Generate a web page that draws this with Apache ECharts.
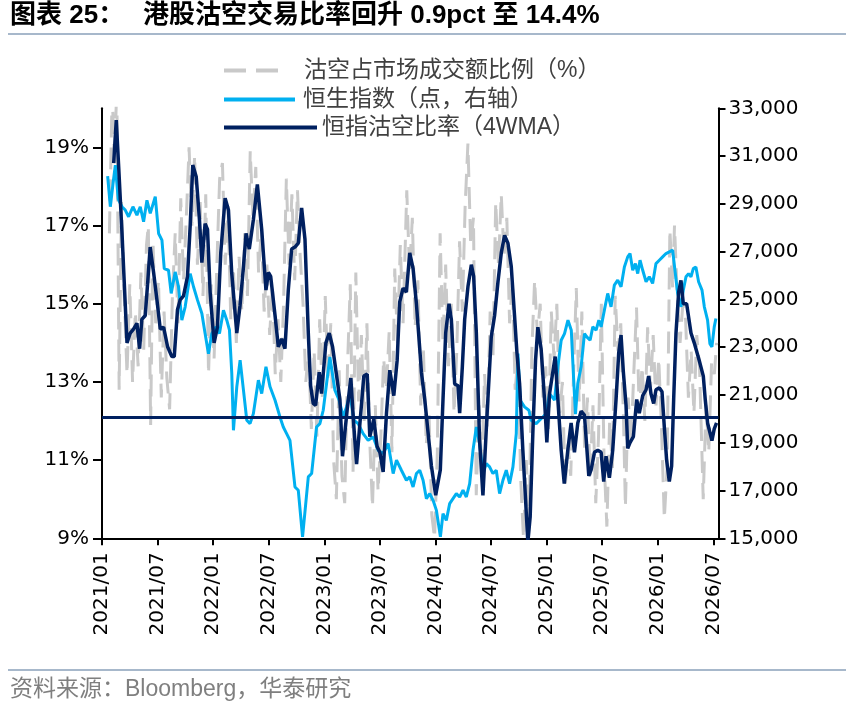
<!DOCTYPE html>
<html>
<head>
<meta charset="utf-8">
<script src="https://cdn.jsdelivr.net/npm/echarts@6/dist/echarts.min.js"></script>
<style>
  html, body { margin: 0; padding: 0; background: #fff; }
  #chart { width: 861px; height: 706px; }
</style>
</head>
<body>
<div id="chart"></div>
<script>
// x = months after 2021/01
var tickMonths = [0, 6, 12, 18, 24, 30, 36, 42, 48, 54, 60, 66];
var tickLabels = ['2021/01', '2021/07', '2022/01', '2022/07', '2023/01', '2023/07',
                  '2024/01', '2024/07', '2025/01', '2025/07', '2026/01', '2026/07'];
var leftTicks = [9, 11, 13, 15, 17, 19];

var seriesNames = ['沽空占市场成交额比例（%）', '恒生指数（点，右轴）', '恒指沽空比率（4WMA）'];
var avgLevel = 12.1;

// 沽空占市场成交额比例 (%)
var shortRatio = [
  [0.8,16.8],[1.1,20.4],[1.35,18.6],[1.6,20.6],[1.85,12.8],[2.1,17.6],[2.4,15.2],[2.7,13.2],[3.0,15.5],[3.3,13.0],
  [3.6,14.8],[3.9,13.4],[4.2,15.8],[4.5,13.8],[4.8,16.5],[5.0,17.0],[5.25,11.9],[5.5,16.6],[5.8,14.5],[6.1,15.6],
  [6.4,12.6],[6.7,14.8],[7.0,13.1],[7.3,12.3],[7.6,15.2],[7.9,16.8],[8.2,14.5],[8.5,17.7],[8.8,15.6],[9.1,17.2],
  [9.4,19.0],[9.7,17.0],[10.0,18.8],[10.3,16.0],[10.6,17.6],[10.9,15.2],[11.2,17.8],[11.5,13.2],[11.8,15.5],[12.1,13.6],
  [12.4,16.0],[12.7,18.2],[13.0,18.6],[13.3,16.0],[13.6,17.5],[13.9,14.6],[14.2,15.8],[14.5,14.0],[14.8,16.2],[15.1,14.8],
  [15.4,16.8],[15.7,15.2],[16.0,18.9],[16.3,17.2],[16.6,18.5],[16.9,15.8],[17.2,16.9],[17.5,14.8],[17.8,16.0],[18.1,14.2],
  [18.4,15.5],[18.7,13.2],[19.0,14.6],[19.3,13.0],[19.6,15.0],[19.9,18.2],[20.2,16.0],[20.5,17.8],[20.8,15.6],[21.1,17.9],
  [21.4,16.2],[21.7,15.0],[22.0,13.0],[22.3,13.8],[22.6,11.8],[22.9,13.8],[23.2,11.6],[23.5,14.6],[23.8,12.5],[24.1,15.2],
  [24.4,13.0],[24.7,14.5],[25.0,11.0],[25.3,10.0],[25.6,13.3],[25.9,10.6],[26.2,9.9],[26.5,13.4],[26.8,15.5],[27.1,10.7],
  [27.4,15.8],[27.7,12.5],[28.0,14.2],[28.3,12.0],[28.6,14.5],[28.9,11.5],[29.2,9.8],[29.5,12.4],[29.8,10.2],[30.1,11.6],
  [30.4,13.6],[30.7,12.8],[31.0,14.3],[31.3,11.2],[31.6,15.9],[31.9,14.0],[32.2,16.5],[32.5,14.5],[32.9,17.9],[33.2,15.8],
  [33.5,17.2],[33.8,14.4],[34.1,15.6],[34.4,12.4],[34.7,13.8],[35.0,11.4],[35.3,12.2],[35.6,9.6],[35.9,9.0],[36.2,11.2],
  [36.5,16.8],[36.8,14.0],[37.1,16.0],[37.4,13.4],[37.7,15.0],[38.0,12.2],[38.3,13.8],[38.6,16.6],[38.9,14.8],[39.2,17.5],
  [39.5,19.1],[39.8,16.5],[40.1,17.2],[40.4,10.1],[40.7,12.4],[41.0,10.8],[41.3,13.2],[41.6,11.8],[41.9,14.8],[42.2,13.6],
  [42.5,17.6],[42.8,16.0],[43.1,17.8],[43.4,16.2],[43.7,17.2],[44.0,14.5],[44.3,15.6],[44.6,12.8],[44.9,13.6],[45.2,10.5],
  [45.5,9.0],[45.8,11.0],[46.1,9.4],[46.4,13.8],[46.7,15.6],[47.0,14.2],[47.3,15.0],[47.6,12.6],[47.9,13.4],[48.2,11.8],
  [48.5,14.8],[48.8,13.6],[49.1,15.0],[49.4,12.2],[49.7,13.0],[50.0,10.3],[50.3,11.4],[50.6,10.6],[50.9,13.2],[51.2,15.4],
  [51.5,12.5],[51.8,14.8],[52.1,11.2],[52.4,12.6],[52.7,10.6],[53.0,12.4],[53.3,9.9],[53.6,11.6],[53.9,15.0],[54.2,11.0],
  [54.5,9.3],[54.8,12.0],[55.1,10.8],[55.4,15.2],[55.7,13.8],[56.0,14.5],[56.3,12.0],[56.5,9.8],[56.8,12.6],[57.1,11.4],
  [57.4,13.2],[57.7,14.9],[58.0,12.2],[58.3,13.4],[58.6,12.0],[58.9,14.4],[59.2,12.8],[59.5,14.2],[59.8,12.4],[60.1,13.6],
  [60.4,11.8],[60.7,9.5],[61.0,10.8],[61.3,16.9],[61.6,15.4],[61.8,17.0],[62.1,15.2],[62.4,14.0],[62.7,15.0],[63.0,14.6],
  [63.3,12.6],[63.6,13.8],[63.9,12.2],[64.2,14.2],[64.5,13.4],[64.9,10.0],[65.2,12.4],[65.5,11.2],[65.8,13.5],[66.1,13.2],
  [66.35,14.0]
];

// 恒生指数 (点)
var hsi = [
  [0.61,30160],[0.9,28880],[1.19,29850],[1.44,30620],[1.75,29200],[2.16,28880],[2.51,28740],[2.87,28460],[3.34,28880],[3.77,28530],
  [4.13,28880],[4.49,28250],[4.85,29150],[5.21,28600],[5.75,29300],[6.11,27760],[6.47,27480],[6.72,26290],[7.18,26220],[7.47,25250],
  [7.9,26150],[8.26,25530],[8.62,24130],[8.98,24690],[9.52,26080],[9.88,25530],[10.31,24970],[10.78,24410],[11.13,23570],[11.49,22730],
  [11.85,23570],[12.32,23850],[12.68,23570],[13.11,24550],[13.47,24130],[13.76,23710],[14.01,21900],[14.19,19520],[14.55,21340],[14.91,22460],
  [15.27,21200],[15.63,19940],[15.98,19800],[16.34,20220],[16.88,21620],[17.24,21060],[17.7,22180],[18.14,21340],[18.68,20780],[19.21,20080],
  [19.57,19660],[19.93,19380],[20.29,19100],[20.83,17150],[21.19,17010],[21.65,15060],[22.27,17570],[22.63,17710],[23.16,19660],[23.52,19800],
  [23.88,20360],[24.6,22590],[25.14,21200],[25.6,20780],[26.04,20080],[26.4,20500],[26.76,21060],[27.19,19940],[27.65,19800],[28.19,19380],
  [28.73,19100],[29.27,19240],[29.81,18690],[30.35,18550],[30.89,18970],[31.43,17710],[31.79,18270],[32.32,17850],[32.86,17430],[33.22,17570],
  [33.58,17150],[33.94,17710],[34.3,17850],[34.66,17430],[35.02,16660],[35.38,16870],[35.74,16590],[36.1,16170],[36.53,15060],[36.81,16030],
  [37.17,15750],[37.53,16450],[37.89,16660],[38.25,16870],[38.61,16730],[38.97,17010],[39.33,16730],[39.69,17290],[40.05,18690],[40.41,19660],
  [40.76,18970],[41.12,17710],[41.48,18130],[41.84,17990],[42.2,17710],[42.56,17850],[42.92,16870],[43.28,17430],[43.64,17850],[44.0,17290],
  [44.36,17990],[44.72,19380],[44.9,22730],[45.15,20780],[45.61,20500],[46.08,20360],[46.33,19940],[46.87,19800],[47.23,19940],[47.59,20080],
  [47.95,20220],[48.31,21060],[48.85,20780],[49.21,22180],[49.57,23290],[49.93,23570],[50.3,24130],[50.66,23710],[50.9,21760],[51.11,20200],
  [51.36,21480],[51.72,22180],[52.08,23570],[52.33,23430],[52.69,23290],[52.98,23850],[53.34,23710],[53.63,24130],[53.88,23850],[54.23,24550],
  [54.59,25250],[54.95,24690],[55.31,25600],[55.67,25810],[56.03,25530],[56.39,26360],[56.75,26780],[57.0,26920],[57.29,26220],[57.58,26500],
  [57.83,26080],[58.08,26640],[58.37,26220],[58.73,25740],[59.08,25950],[59.44,25670],[59.8,26500],[60.16,26640],[60.52,26780],[60.88,26920],
  [61.24,26990],[61.6,27060],[61.89,26080],[62.14,25250],[62.5,24690],[62.75,25390],[63.04,25950],[63.32,26080],[63.58,25950],[63.83,26290],
  [64.11,26360],[64.4,25740],[64.77,25390],[65.02,24690],[65.37,24130],[65.62,23150],[65.84,23010],[66.09,23850],[66.27,24200]
];

// 恒指沽空比率 4WMA (%)
var shortRatio4w = [
  [1.26,18.6],[1.54,19.7],[1.8,18.5],[2.16,16.8],[2.7,14.0],[3.05,14.25],[3.4,14.35],[3.77,14.5],[4.06,13.85],[4.3,14.6],
  [4.67,14.7],[4.92,15.5],[5.2,16.45],[5.57,15.8],[5.93,15.1],[6.29,14.35],[6.65,14.4],[7.08,13.9],[7.54,13.65],[7.8,13.65],
  [8.15,14.85],[8.44,15.1],[8.8,15.2],[9.23,15.7],[9.52,17.0],[9.8,18.55],[10.17,18.25],[10.52,17.15],[10.78,16.05],[11.13,17.05],
  [11.39,16.9],[11.67,15.3],[12.1,14.0],[12.46,14.4],[12.82,16.3],[13.29,17.7],[13.65,17.4],[14.0,15.8],[14.55,14.25],[14.9,14.95],
  [15.27,15.95],[15.55,16.8],[15.9,16.4],[16.34,17.15],[16.77,18.05],[17.24,16.9],[17.7,15.35],[17.96,15.8],[18.21,15.7],[18.68,14.7],
  [19.03,13.9],[19.39,14.1],[19.75,13.85],[20.11,15.35],[20.47,16.4],[20.83,16.45],[21.19,16.55],[21.55,17.45],[21.91,16.65],[22.27,14.25],
  [22.52,12.9],[22.8,12.45],[23.06,12.4],[23.45,13.25],[23.7,12.7],[24.17,14.0],[24.53,14.25],[24.89,13.9],[25.39,13.05],[25.68,12.55],
  [25.96,11.1],[26.47,12.3],[26.86,13.1],[27.19,11.85],[27.48,10.9],[27.76,11.7],[28.26,13.15],[28.63,13.2],[28.91,11.6],[29.34,12.05],
  [29.7,11.35],[29.99,11.2],[30.35,10.7],[30.71,12.2],[31.07,13.3],[31.5,12.65],[31.86,13.55],[32.14,15.05],[32.5,15.4],[32.86,15.3],
  [33.22,16.3],[33.58,15.9],[33.94,15.0],[34.3,13.85],[34.48,13.25],[34.84,12.55],[35.2,11.7],[35.56,10.85],[36.02,10.1],[36.52,10.75],
  [36.81,12.55],[37.1,14.25],[37.46,15.0],[37.71,14.6],[38.07,12.95],[38.43,12.9],[38.61,12.2],[38.9,13.4],[39.15,14.6],[39.51,15.45],
  [39.87,16.0],[40.12,15.7],[40.41,14.25],[40.76,11.5],[41.12,10.1],[41.55,12.1],[42.02,14.15],[42.38,14.7],[42.74,15.55],[43.1,16.3],
  [43.46,16.75],[43.82,16.55],[44.18,15.95],[44.53,14.7],[44.79,13.75],[45.08,12.95],[45.43,11.25],[45.72,10.0],[45.97,8.9],[46.22,9.55],
  [46.51,11.7],[46.8,13.55],[47.05,14.4],[47.4,13.85],[47.77,12.55],[48.02,11.45],[48.31,12.7],[48.6,13.15],[48.92,13.65],[49.21,12.55],
  [49.57,11.25],[49.9,10.4],[50.28,11.25],[50.64,11.95],[51.0,11.2],[51.36,11.95],[51.72,12.25],[52.08,12.15],[52.55,10.6],[52.8,10.75],
  [53.16,11.2],[53.52,11.25],[53.88,11.2],[54.16,10.45],[54.41,11.1],[54.77,10.55],[55.13,11.25],[55.49,12.55],[55.78,13.75],[56.03,14.2],
  [56.28,13.25],[56.57,12.4],[56.75,11.3],[57.0,11.45],[57.36,11.6],[57.72,12.55],[58.0,12.2],[58.37,12.65],[58.73,12.8],[59.01,13.15],
  [59.26,12.7],[59.55,12.45],[59.8,12.8],[60.16,12.85],[60.45,12.75],[60.7,11.85],[60.95,11.0],[61.24,10.45],[61.49,10.85],[61.71,12.55],
  [61.96,14.25],[62.25,15.3],[62.5,15.6],[62.75,15.0],[63.11,15.0],[63.58,14.25],[63.93,14.0],[64.47,13.55],[64.91,13.15],[65.12,12.55],
  [65.37,11.95],[65.55,12.0],[65.84,11.5],[66.09,11.8],[66.34,11.95]
];

var GREY = '#c9c9c9', SKY = '#00b0f0', NAVY = '#002060';
var axisFont = 'DejaVu Sans';
var cjkFont = "'Liberation Sans', 'Noto Sans CJK SC', sans-serif";

function addCommas(v) {
	return String(v).replace(/\B(?=(\d{3})+(?!\d))/g, ',');
}

function makeLegend(name, top, width, gap, lineWidth) {
	return {
		data: [name],
		left: 222,
		top: top,
		padding: 0,
		itemWidth: width,
		itemHeight: 12,
		selectedMode: false,
		itemStyle: { opacity: 0 },
		lineStyle: { width: lineWidth },
		textStyle: {
			fontFamily: cjkFont,
			fontSize: 23,
			color: '#404040',
			padding: [0, 0, 0, gap]
		}
	};
}

var option = {
	animation: false,
	backgroundColor: '#fff',
	title: [{
		text: '图表 25：',
		left: 10,
		top: 3,
		padding: 0,
		textStyle: { fontFamily: cjkFont, fontSize: 26, fontWeight: 'bold', color: '#000' }
	}, {
		text: '港股沽空交易比率回升 0.9pct 至 14.4%',
		left: 143,
		top: 3,
		padding: 0,
		textStyle: { fontFamily: cjkFont, fontSize: 26, fontWeight: 'bold', color: '#000' }
	}],
	graphic: [
		{ type: 'line', shape: { x1: 8, y1: 34, x2: 846, y2: 34 }, style: { stroke: '#a7b8cb', lineWidth: 2 } },
		{ type: 'line', shape: { x1: 8, y1: 670, x2: 846, y2: 670 }, style: { stroke: '#a7b8cb', lineWidth: 2 } },
		{
			type: 'text', left: 10, top: 678,
			style: { text: '资料来源：Bloomberg，华泰研究', font: "23px 'Liberation Sans', 'Noto Sans CJK SC'", fill: '#7f7f7f' }
		}
	],
	legend: [
		makeLegend(seriesNames[0], 59, 63, 12, 4),
		makeLegend(seriesNames[1], 88, 71, 3, 4),
		makeLegend(seriesNames[2], 116, 93, 0, 4)
	],
	grid: { left: 102, right: 142.5, top: 108.3, bottom: 167.7 },
	xAxis: {
		type: 'value',
		min: 0,
		max: 66.55,
		splitLine: { show: false },
		axisLine: { lineStyle: { color: '#000', width: 2 } },
		axisTick: { customValues: tickMonths, length: 7, lineStyle: { color: '#000', width: 2 } },
		axisLabel: {
			customValues: tickMonths,
			rotate: 90,
			margin: 14,
			fontFamily: axisFont,
			fontSize: 20,
			color: '#000',
			formatter: function (v) { return tickLabels[Math.round(v / 6)]; }
		}
	},
	yAxis: [{
		type: 'value',
		min: 9,
		max: 20,
		splitLine: { show: false },
		axisLine: { show: true, lineStyle: { color: '#000', width: 2 } },
		axisTick: { show: true, customValues: leftTicks, length: 9, lineStyle: { color: '#000', width: 2 } },
		axisLabel: {
			customValues: leftTicks,
			margin: 13,
			fontFamily: axisFont,
			fontSize: 20,
			color: '#000',
			formatter: '{value}%'
		}
	}, {
		type: 'value',
		min: 15000,
		max: 33000,
		interval: 2000,
		position: 'right',
		splitLine: { show: false },
		axisLine: { show: true, lineStyle: { color: '#000', width: 2 } },
		axisTick: { show: true, length: 7, lineStyle: { color: '#000', width: 2 } },
		axisLabel: {
			margin: 10,
			fontFamily: axisFont,
			fontSize: 20,
			color: '#000',
			formatter: function (v) { return addCommas(v); }
		}
	}],
	series: [{
		name: seriesNames[0],
		type: 'line',
		data: shortRatio,
		yAxisIndex: 0,
		symbol: 'none',
		lineStyle: { color: GREY, width: 3, type: [22, 10] },
		itemStyle: { color: GREY },
		z: 1
	}, {
		name: seriesNames[1],
		type: 'line',
		data: hsi,
		yAxisIndex: 1,
		symbol: 'none',
		lineStyle: { color: SKY, width: 3 },
		itemStyle: { color: SKY },
		z: 2
	}, {
		name: seriesNames[2],
		type: 'line',
		data: shortRatio4w,
		yAxisIndex: 0,
		symbol: 'none',
		lineStyle: { color: NAVY, width: 3.5 },
		itemStyle: { color: NAVY },
		z: 3,
		markLine: {
			silent: true,
			symbol: 'none',
			label: { show: false },
			lineStyle: { color: NAVY, width: 3, type: 'solid' },
			data: [{ yAxis: avgLevel }]
		}
	}]
};

var myChart = echarts.init(document.getElementById('chart'));
myChart.setOption(option);
</script>
</body>
</html>
